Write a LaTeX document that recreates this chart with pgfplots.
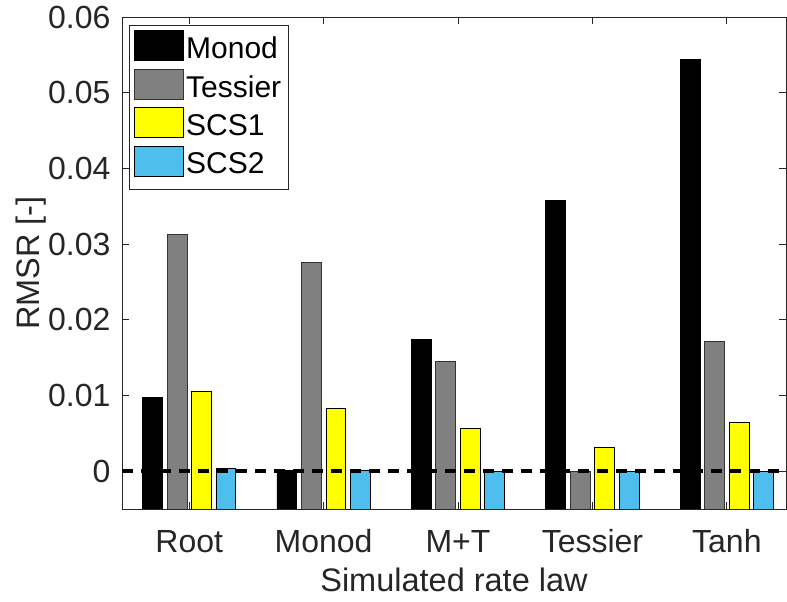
\documentclass[border=0pt]{standalone}
\usepackage{fontspec}
\setmainfont{Liberation Sans}
\usepackage{pgfplots}
\pgfplotsset{compat=1.18}
\usepackage{pgfplotstable}
\definecolor{axisgray}{rgb}{0.15,0.15,0.15}
\definecolor{barblue}{rgb}{0.301,0.745,0.933}
\definecolor{bargray}{rgb}{0.5,0.5,0.5}
\definecolor{baryellow}{rgb}{1,1,0}

\pgfplotstableread{
x monod tessier scsone scstwo
1 0.00968 0.03122 0.01060 0.00040
2 0.00010 0.02752 0.00823 0.00010
3 0.01744 0.01444 0.00564 0.00000
4 0.03576 0.00000 0.00313 0.00000
5 0.05439 0.01708 0.00638 0.00000
}\rmsrdata

\begin{document}
\begin{tikzpicture}
\begin{axis}[
  scale only axis, width=664pt, height=492pt,
  xmin=0.5, xmax=5.44, ymin=0, ymax=0.065,
  scaled y ticks=false,
  xtick={1,2,3,4,5}, xticklabels={Root,Monod,M+T,Tessier,Tanh},
  ytick={0.005,0.015,0.025,0.035,0.045,0.055,0.065},
  yticklabels={0,0.01,0.02,0.03,0.04,0.05,0.06},
  tick align=inside, major tick length=7pt,
  tick style={axisgray, line width=0.8pt},
  axis line style={axisgray, line width=0.8pt},
  ticklabel style={font=\fontsize{32}{38}\selectfont, text=axisgray},
  xticklabel style={anchor=base, yshift=-44pt},
  yticklabel style={anchor=east, xshift=-8pt},
  xlabel={Simulated rate law}, ylabel={RMSR [-]},
  every axis x label/.style={at={(rel axis cs:0.5,0)}, yshift=-71pt, anchor=center,
    font=\fontsize{32.5}{39}\selectfont, text=axisgray},
  every axis y label/.style={at={(rel axis cs:0,0.5)}, xshift=-91pt, rotate=90, anchor=center,
    font=\fontsize{32.5}{39}\selectfont, text=axisgray},
  legend cell align=left,
  legend style={at={(rel axis cs:0,1)}, xshift=7pt, yshift=-8pt, anchor=north west,
    draw=axisgray, line width=0.8pt, font=\fontsize{30}{36}\selectfont,
    inner xsep=5pt, inner ysep=5pt, row sep=0pt,
    nodes={inner xsep=2pt, inner ysep=0pt, text height=28pt, text depth=10pt}},
  every axis plot post/.append style={legend image code/.code={\draw[##1, line width=0.8pt] (0pt,-11pt) rectangle (49pt,19pt);}},
]
\addplot[ybar, bar width=0.148, bar shift=-0.273, fill=black, draw=black, line width=0.8pt, y filter/.expression={y+0.005}] table[x=x, y=monod] {\rmsrdata};
\addlegendentry{Monod}
\addplot[ybar, bar width=0.148, bar shift=-0.091, fill=bargray, draw=black!80, line width=0.8pt, y filter/.expression={y+0.005}] table[x=x, y=tessier] {\rmsrdata};
\addlegendentry{Tessier}
\addplot[ybar, bar width=0.148, bar shift=0.091, fill=baryellow, draw=black, line width=0.8pt, y filter/.expression={y+0.005}] table[x=x, y=scsone] {\rmsrdata};
\addlegendentry{SCS1}
\addplot[ybar, bar width=0.148, bar shift=0.273, fill=barblue, draw=black, line width=0.8pt, y filter/.expression={y+0.005}] table[x=x, y=scstwo] {\rmsrdata};
\addlegendentry{SCS2}
\addplot[forget plot, black, line width=3.5pt, dash pattern=on 11pt off 8pt, y filter/.expression={y+0.005}] coordinates {(0.5,0) (5.44,0)};
\coordinate (SW) at (rel axis cs:0,0);
\coordinate (NE) at (rel axis cs:1,1);
\end{axis}
\pgfresetboundingbox
\path[use as bounding box] ([xshift=-122pt,yshift=-93pt]SW) rectangle ([xshift=1pt,yshift=17pt]NE);
\end{tikzpicture}
\end{document}
